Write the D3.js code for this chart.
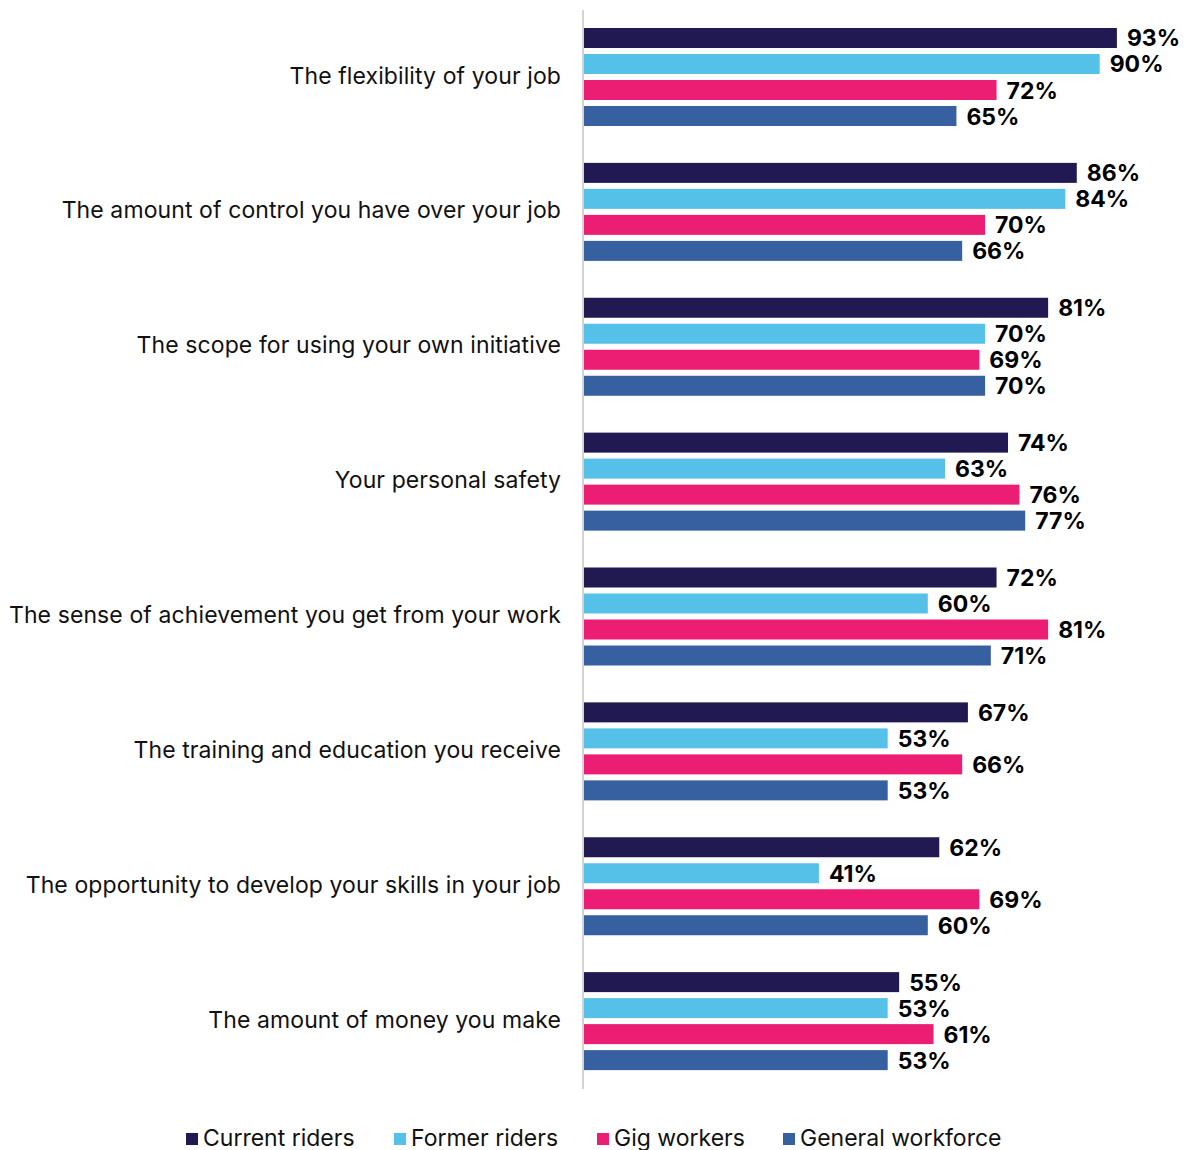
<!DOCTYPE html>
<html><head><meta charset="utf-8">
<script src="https://cdn.jsdelivr.net/npm/d3@7"></script>
<style>body{margin:0;background:#fff;} svg{display:block;}</style>
</head><body>
<svg id="c" width="1187" height="1150"></svg>
<script>
const categories = [
  "The flexibility of your job",
  "The amount of control you have over your job",
  "The scope for using your own initiative",
  "Your personal safety",
  "The sense of achievement you get from your work",
  "The training and education you receive",
  "The opportunity to develop your skills in your job",
  "The amount of money you make"
];
const seriesNames = ["Current riders", "Former riders", "Gig workers", "General workforce"];
const currentRiders = [93, 86, 81, 74, 72, 67, 62, 55];
const formerRiders = [90, 84, 70, 63, 60, 53, 41, 53];
const gigWorkers = [72, 70, 69, 76, 81, 66, 69, 61];
const generalWorkforce = [65, 66, 70, 77, 71, 53, 60, 53];
const seriesValues = [currentRiders, formerRiders, gigWorkers, generalWorkforce];
const colors = ["#211a52", "#56c1e8", "#ec1e74", "#3660a0"];

const svg = d3.select("#c");
const x0 = 584;
const x = d3.scaleLinear().domain([0, 100]).range([x0, x0 + 573]);
const y = d3.scaleBand().domain(categories).range([10, 1089]).paddingInner(0).paddingOuter(0);
const inner = d3.scaleBand().domain(seriesNames).range([18, 116]).paddingInner(0.231).paddingOuter(0);

const font = "Inter, Roboto, 'Noto Sans', sans-serif";

// axis line
svg.append("line").attr("x1", x0 - 1).attr("x2", x0 - 1).attr("y1", 10).attr("y2", 1089)
  .attr("stroke", "#d3d3d3").attr("stroke-width", 2);

const g = svg.selectAll("g.cat").data(categories).join("g")
  .attr("transform", d => `translate(0,${y(d)})`);

g.append("text").attr("x", 561).attr("y", 73.5).attr("text-anchor", "end")
  .attr("font-family", font).attr("font-size", 23).attr("letter-spacing", 0.1).attr("fill", "#111")
  .text(d => d);

categories.forEach((c, ci) => {
  const gg = g.filter((d, i) => i === ci);
  seriesNames.forEach((s, si) => {
    const v = seriesValues[si][ci];
    gg.append("rect").attr("x", x(0)).attr("y", inner(s)).attr("width", x(v) - x(0))
      .attr("height", inner.bandwidth()).attr("fill", colors[si]);
    gg.append("text").attr("x", x(v) + 10).attr("y", inner(s) + inner.bandwidth() / 2 + 8.5)
      .attr("font-family", font).attr("font-weight", "bold")
      .attr("font-size", 23).attr("fill", "#000").text(v + "%");
  });
});

// legend
const legendX = [186, 394, 597, 783];
const lg = svg.selectAll("g.leg").data(seriesNames).join("g")
  .attr("transform", (d, i) => `translate(${legendX[i]},1133)`);
lg.append("rect").attr("width", 12).attr("height", 12).attr("fill", (d, i) => colors[i]);
lg.append("text").attr("x", 17).attr("y", 12.5).attr("font-family", font).attr("font-size", 23)
  .attr("fill", "#111").text(d => d);
</script>
</body></html>
